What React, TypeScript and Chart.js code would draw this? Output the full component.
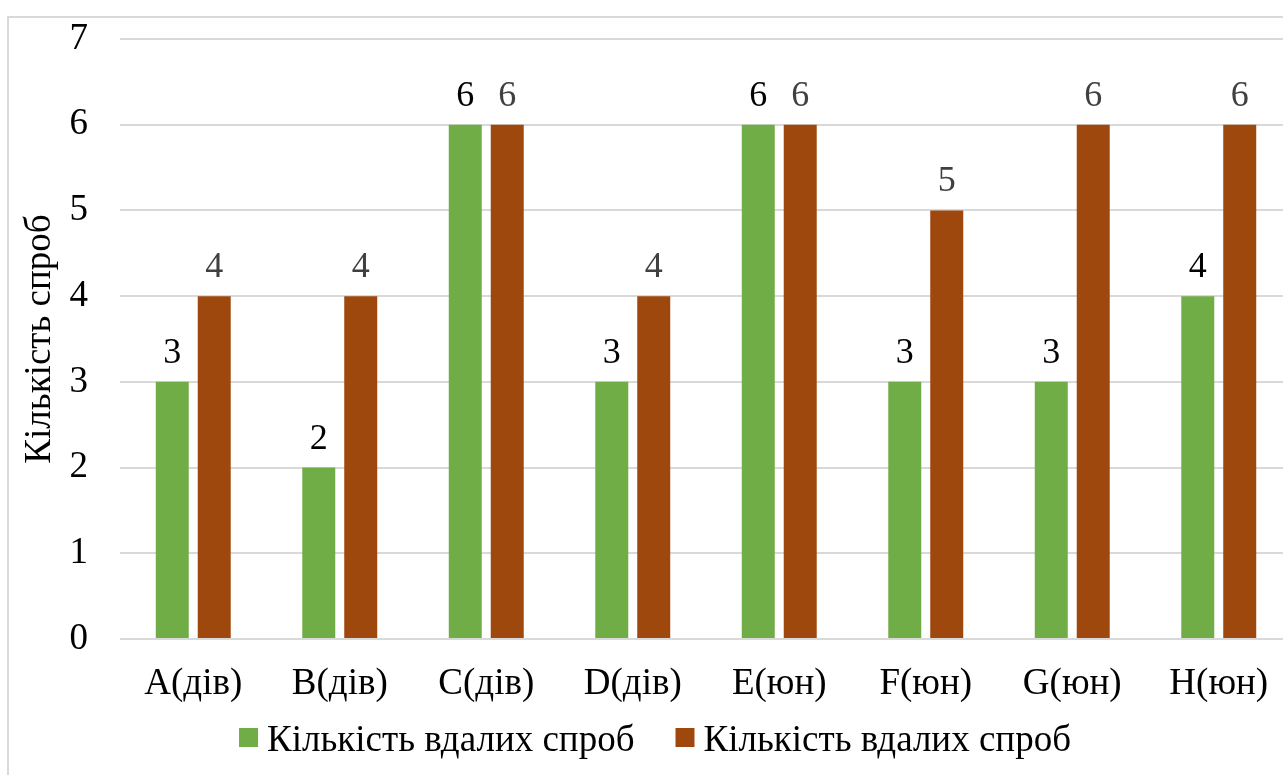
import { useEffect, useRef } from 'react';
import { Chart, registerables } from 'chart.js';

Chart.register(...registerables);

const FONT = 'Liberation Serif';

const categories = ['A(дів)', 'B(дів)', 'C(дів)', 'D(дів)', 'E(юн)', 'F(юн)', 'G(юн)', 'H(юн)'];
const firstSeries = [3, 2, 6, 3, 6, 3, 3, 4];
const secondSeries = [4, 4, 6, 4, 6, 5, 6, 6];
const seriesLabels = ['Кількість вдалих спроб', 'Кількість вдалих спроб'];
const seriesColors = ['#70AD47', '#9E480E'];
const valueLabelColors = ['#000000', '#404040'];
const yAxisTitle = 'Кількість спроб';
const yMin = 0;
const yMax = 7;

const VALUE_FONT = `normal 36px ${FONT}`;
const TEXT_FONT = `normal 37px ${FONT}`;

// Value labels above each bar
const valueLabels = {
  id: 'valueLabels',
  afterDatasetsDraw(chart: any) {
    const ctx = chart.ctx;
    ctx.save();
    ctx.font = VALUE_FONT;
    ctx.textAlign = 'center';
    ctx.textBaseline = 'alphabetic';
    chart.data.datasets.forEach((ds: any, i: number) => {
      const meta = chart.getDatasetMeta(i);
      ctx.fillStyle = valueLabelColors[i];
      meta.data.forEach((el: any, j: number) => {
        ctx.fillText(String(ds.data[j]), el.x, el.y - 19);
      });
    });
    ctx.restore();
  },
};

// Legend row under the axis labels
const bottomLegend = {
  id: 'bottomLegend',
  afterDraw(chart: any) {
    const ctx = chart.ctx;
    ctx.save();
    ctx.font = TEXT_FONT;
    ctx.textBaseline = 'alphabetic';
    ctx.textAlign = 'left';
    const box = 19;
    const gap = 9;
    const spacing = 41;
    const items = chart.data.datasets.map((ds: any) => ({
      label: ds.label,
      color: ds.backgroundColor,
      w: box + gap + ctx.measureText(ds.label).width,
    }));
    const total = items.reduce((s: number, it: any) => s + it.w, 0) + spacing * (items.length - 1);
    let x = 655 - total / 2;
    const baseline = 751;
    items.forEach((it: any) => {
      ctx.fillStyle = it.color;
      ctx.fillRect(x, baseline - 23, box, box);
      ctx.fillStyle = '#000000';
      ctx.fillText(it.label, x + box + gap, baseline);
      x += it.w + spacing;
    });
    ctx.restore();
  },
};

export default function App() {
  const ref = useRef<HTMLCanvasElement>(null);
  const warmRef = useRef<HTMLCanvasElement>(null);

  useEffect(() => {
    // resolve the serif face on a small canvas before the chart measures its text
    const warm = warmRef.current!.getContext('2d')!;
    [`36px ${FONT}`, `37px ${FONT}`, VALUE_FONT, TEXT_FONT].forEach((f) => {
      warm.font = f;
      warm.fillText('Кількість A(дів) 0123456789', 0, 30);
    });

    const chart = new Chart(ref.current!, {
      type: 'bar',
      data: {
        labels: categories,
        datasets: [
          {
            label: seriesLabels[0],
            data: firstSeries,
            backgroundColor: seriesColors[0],
            categoryPercentage: 0.573,
            barPercentage: 0.786,
          },
          {
            label: seriesLabels[1],
            data: secondSeries,
            backgroundColor: seriesColors[1],
            categoryPercentage: 0.573,
            barPercentage: 0.786,
          },
        ],
      },
      options: {
        responsive: false,
        animation: false,
        layout: { padding: { top: 39, bottom: 61, left: 0, right: 8 } },
        plugins: {
          legend: { display: false },
          tooltip: { enabled: false },
        },
        scales: {
          x: {
            grid: { display: false, drawTicks: false },
            border: { display: false },
            ticks: { color: '#000000', font: { family: FONT, size: 37 }, padding: 23, maxRotation: 0 },
            afterFit: (s: any) => { s.height = 75; },
          },
          y: {
            min: yMin,
            max: yMax,
            grid: { color: '#d9d9d9', lineWidth: 2, drawTicks: false },
            border: { display: false },
            ticks: { stepSize: 1, color: '#000000', font: { family: FONT, size: 37 }, padding: 32 },
            title: {
              display: true,
              text: yAxisTitle,
              color: '#000000',
              font: { family: FONT, size: 37 },
              padding: { top: 18, bottom: 0 },
            },
            afterFit: (s: any) => {
              s.width = 120;
              s.paddingTop = 0;
              s.paddingBottom = 0;
            },
          },
        },
      },
      plugins: [valueLabels, bottomLegend],
    });
    return () => chart.destroy();
  }, []);

  return (
    <div style={{ position: 'fixed', left: 0, top: 0, width: 1283, height: 775, overflow: 'hidden', background: '#ffffff' }}>
      <canvas ref={warmRef} width={40} height={40} style={{ position: 'absolute', left: 0, top: 735, opacity: 0 }} />
      <canvas ref={ref} width={1300} height={775} style={{ display: 'block', position: 'relative' }} />
      <div
        style={{
          position: 'absolute',
          left: 7,
          top: 16,
          width: 1400,
          height: 900,
          border: '2px solid #d9d9d9',
          boxSizing: 'border-box',
          pointerEvents: 'none',
        }}
      />
    </div>
  );
}
